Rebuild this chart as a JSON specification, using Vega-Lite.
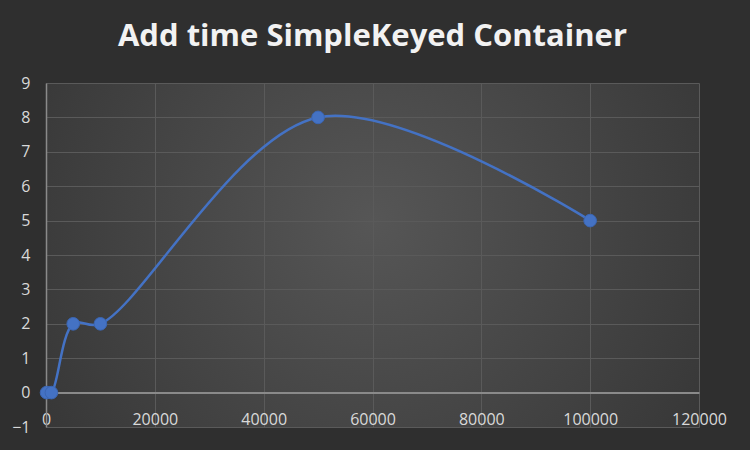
{
  "$schema": "https://vega.github.io/schema/vega-lite/v6.json",
  "autosize": "none",
  "width": 653,
  "height": 344,
  "padding": {"left": 46, "top": 83, "right": 51, "bottom": 23},
  "background": "#2f2f2f",
  "title": {
    "text": "Add time SimpleKeyed Container",
    "font": "Open Sans",
    "fontSize": 31,
    "fontWeight": "bold",
    "color": "#f2f2f2",
    "anchor": "middle",
    "frame": "group",
    "baseline": "alphabetic",
    "offset": -2
  },
  "data": {
    "values": [
      {"n": 100, "t": 0},
      {"n": 1000, "t": 0},
      {"n": 5000, "t": 2},
      {"n": 10000, "t": 2},
      {"n": 50000, "t": 8},
      {"n": 100000, "t": 5}
    ]
  },
  "encoding": {
    "x": {
      "field": "n",
      "type": "quantitative",
      "scale": {"domain": [0, 120000], "nice": false},
      "axis": {
        "title": null,
        "values": [0, 20000, 40000, 60000, 80000, 100000, 120000],
        "format": "d",
        "offset": -34.4,
        "grid": true,
        "gridColor": "#5a5a5a",
        "gridWidth": 1,
        "domainColor": "#8a8a8a",
        "domainWidth": 2,
        "ticks": false,
        "tickSize": 0,
        "labelPadding": 19,
        "labelFont": "Open Sans",
        "labelFontSize": 16,
        "labelColor": "#d9d9d9",
        "labelFlush": false,
        "labelOverlap": false
      }
    },
    "y": {
      "field": "t",
      "type": "quantitative",
      "scale": {"domain": [-1, 9], "nice": false},
      "axis": {
        "title": null,
        "values": [-1, 0, 1, 2, 3, 4, 5, 6, 7, 8, 9],
        "grid": true,
        "gridColor": "#5a5a5a",
        "gridWidth": 1,
        "domainColor": "#8a8a8a",
        "domainWidth": 1.5,
        "ticks": false,
        "tickSize": 0,
        "labelPadding": 16,
        "labelFont": "Open Sans",
        "labelFontSize": 16,
        "labelColor": "#d9d9d9",
        "labelFlush": false,
        "labelOverlap": false
      }
    }
  },
  "layer": [
    {
      "mark": {"type": "line", "interpolate": "catmull-rom", "color": "#4472c4", "strokeWidth": 2.5}
    },
    {
      "mark": {"type": "point", "filled": true, "shape": "circle", "size": 160, "color": "#4472c4", "opacity": 1, "stroke": "#3b66b3", "strokeWidth": 1}
    }
  ],
  "config": {
    "view": {
      "stroke": null,
      "fill": {
        "gradient": "radial",
        "x1": 0.5, "y1": 0.45, "r1": 0,
        "x2": 0.5, "y2": 0.45, "r2": 0.75,
        "stops": [
          {"offset": 0, "color": "#565656"},
          {"offset": 1, "color": "#2f2f2f"}
        ]
      }
    }
  }
}
